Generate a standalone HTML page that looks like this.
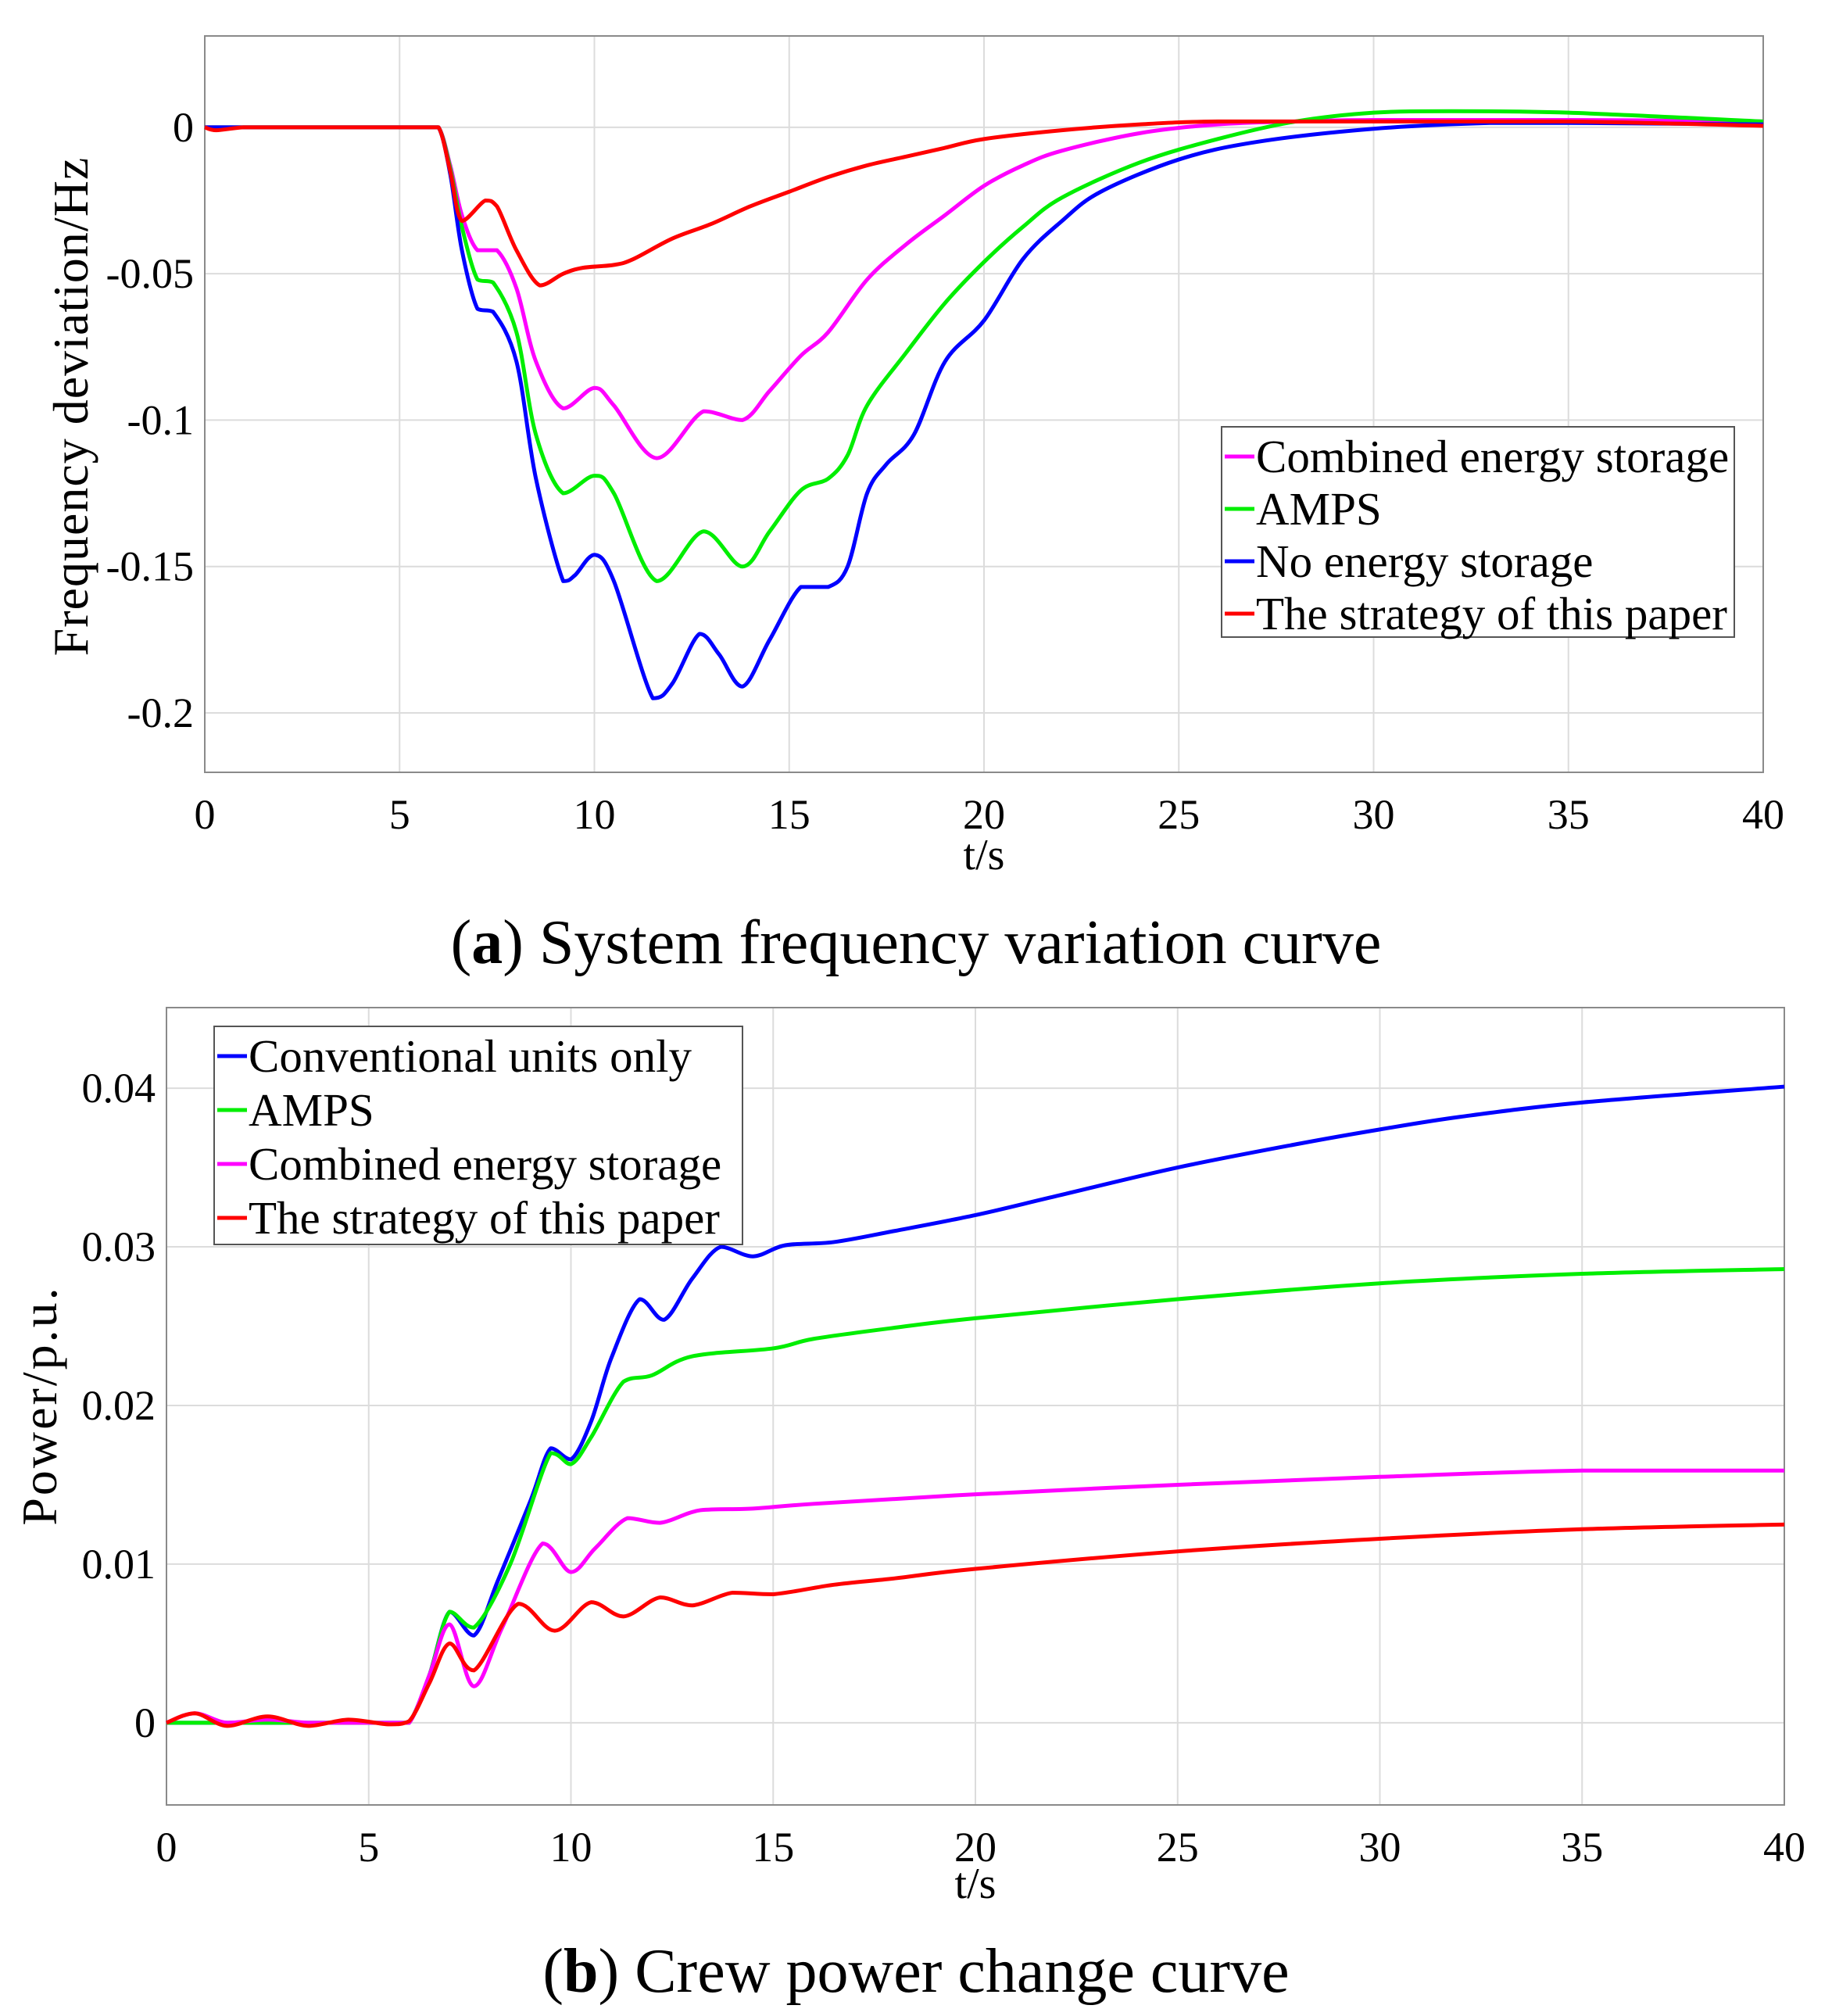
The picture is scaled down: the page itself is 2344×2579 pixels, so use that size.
<!DOCTYPE html>
<html><head><meta charset="utf-8"><style>
html,body{margin:0;padding:0;background:#fff;}
svg{display:block;font-family:"Liberation Serif",serif;}
</style></head><body>
<svg id="svg" width="2344" height="2579" viewBox="0 0 2344 2579">
<g id="top"></g>
<g id="bot"></g>
<text x="1172" y="1232" font-size="80" text-anchor="middle">(<tspan font-weight="bold">a</tspan>) System frequency variation curve</text>
<text x="1172" y="2548" font-size="80" text-anchor="middle">(<tspan font-weight="bold">b</tspan>) Crew power change curve</text>
</svg>
<script>
const NS="http://www.w3.org/2000/svg";
// ---- Top chart data ----
const topXTicks=[0,5,10,15,20,25,30,35,40];
const topYTicks=[0,-0.05,-0.1,-0.15,-0.2];
const topYLabels=["0","-0.05","-0.1","-0.15","-0.2"];
const topNames=["Combined energy storage","AMPS","No energy storage","The strategy of this paper"];
const topColors=["#ff00ff","#00ee00","#0000ff","#ff0000"];
const fBlueT=[0,1,2,3,4,5,5.6,6,6.3,6.6,7,7.4,8,8.5,9.2,9.5,10,10.5,11.5,12,12.7,13.2,13.8,14.5,15.3,16,16.5,17,17.5,18.2,19,20,21,22,23,25,27,30,33,35,40];
const fBlueV=[0,0,0,0,0,0,0,0,-0.016,-0.042,-0.062,-0.063,-0.08,-0.12,-0.155,-0.153,-0.146,-0.155,-0.195,-0.19,-0.173,-0.18,-0.191,-0.175,-0.157,-0.157,-0.15,-0.125,-0.115,-0.105,-0.08,-0.066,-0.045,-0.032,-0.022,-0.011,-0.005,-0.0005,0.0015,0.0015,0.001];
const fGreenT=[0,1,2,3,4,5,5.6,6,6.3,6.6,7,7.4,8,8.5,9.2,10,10.5,11.6,12.8,13.8,14.5,15.3,16,16.5,17,18,19,20,21,22,24,26,28,30,32,35,40];
const fGreenV=[0,0,0,0,0,0,0,0,-0.014,-0.034,-0.052,-0.053,-0.07,-0.105,-0.125,-0.119,-0.125,-0.155,-0.138,-0.15,-0.138,-0.124,-0.12,-0.112,-0.095,-0.077,-0.06,-0.046,-0.034,-0.024,-0.012,-0.004,0.002,0.005,0.0055,0.005,0.002];
const fMagT=[0,1,2,3,4,5,5.6,6,6.3,6.6,7,7.5,8,8.5,9.2,10,10.5,11.6,12.8,13.8,14.5,15.3,16,17,18,19,20,21,22,24,26,28,30,35,40];
const fMagV=[0,0,0,0,0,0,0,0,-0.013,-0.03,-0.042,-0.042,-0.055,-0.08,-0.096,-0.089,-0.095,-0.113,-0.097,-0.1,-0.09,-0.078,-0.07,-0.052,-0.04,-0.03,-0.02,-0.013,-0.008,-0.002,0.001,0.002,0.0025,0.0025,0.002];
const fRedT=[0,0.3,1,2,3,4,5,5.6,6,6.3,6.6,7.2,7.5,8,8.6,9.2,9.7,10.5,11,12,13,14,15,16,17,18,19,20,22,24,26,30,35,40];
const fRedV=[0,-0.001,0,0,0,0,0,0,0,-0.015,-0.032,-0.025,-0.027,-0.042,-0.054,-0.05,-0.048,-0.047,-0.045,-0.038,-0.033,-0.027,-0.022,-0.017,-0.013,-0.01,-0.007,-0.004,-0.001,0.001,0.002,0.002,0.002,0.0005];
// ---- Bottom chart data ----
const botXTicks=[0,5,10,15,20,25,30,35,40];
const botYTicks=[0,0.01,0.02,0.03,0.04];
const botYLabels=["0","0.01","0.02","0.03","0.04"];
const botNames=["Conventional units only","AMPS","Combined energy storage","The strategy of this paper"];
const botColors=["#0000ff","#00ee00","#ff00ff","#ff0000"];
const pBlueT=[0,1,2,3,4,5,5.6,6,6.5,7,7.6,8.2,9,9.5,10,10.5,11,11.7,12.3,13,13.7,14.5,15.3,16.5,18,20,22,25,28,30,32,35,40];
const pBlueV=[0,0,0,0,0,0,0,0,0.003,0.007,0.0055,0.009,0.014,0.0173,0.0166,0.019,0.023,0.0267,0.0254,0.028,0.03,0.0294,0.0301,0.0303,0.031,0.032,0.0332,0.035,0.0365,0.0374,0.0382,0.0391,0.0401];
const pGreenT=[0,1,2,3,4,5,5.6,6,6.5,7,7.6,8.5,9.5,10,10.5,11.3,12,13,15,16,18,20,25,30,35,40];
const pGreenV=[0,0,0,0,0,0,0,0,0.003,0.007,0.006,0.01,0.017,0.0163,0.018,0.0215,0.0219,0.0231,0.0236,0.0242,0.0249,0.0255,0.0267,0.0277,0.0283,0.0286];
const pMagT=[0,0.7,1.5,2.5,3.5,4.5,5.5,6,6.5,7,7.6,8.3,9.3,10,10.6,11.4,12.2,13.2,14.5,16,20,25,30,35,40];
const pMagV=[0,0.0006,0,0.0002,0,0,0,0,0.003,0.0062,0.0023,0.006,0.0113,0.0095,0.011,0.0129,0.0126,0.0134,0.0135,0.0138,0.0144,0.015,0.0155,0.0159,0.0159];
const pRedT=[0,0.7,1.5,2.5,3.5,4.5,5.5,6,6.5,7,7.6,8.7,9.6,10.5,11.3,12.2,13,14,15,16.5,18,20,25,30,35,40];
const pRedV=[0,0.0006,-0.0002,0.0004,-0.0002,0.0002,-0.0001,0.0001,0.0025,0.005,0.0033,0.0075,0.0058,0.0076,0.0067,0.0079,0.0074,0.0082,0.0081,0.0087,0.0091,0.0097,0.0108,0.0116,0.0122,0.0125];

function el(parent,tag,attrs){const e=document.createElementNS(NS,tag);for(const k in attrs)e.setAttribute(k,attrs[k]);parent.appendChild(e);return e;}
function clamp(v,a,b){const lo=Math.min(a,b),hi=Math.max(a,b);return Math.max(lo,Math.min(hi,v));}
function smooth(pts){let d=`M${pts[0][0]},${pts[0][1]}`;for(let i=0;i<pts.length-1;i++){const p0=pts[Math.max(0,i-1)],p1=pts[i],p2=pts[i+1],p3=pts[Math.min(pts.length-1,i+2)];const c1x=p1[0]+(p2[0]-p0[0])/6,c2x=p2[0]-(p3[0]-p1[0])/6;let c1y=p1[1]+(p2[1]-p0[1])/6,c2y=p2[1]-(p3[1]-p1[1])/6;c1y=clamp(c1y,p1[1],p2[1]);c2y=clamp(c2y,p1[1],p2[1]);d+=`C${c1x},${c1y} ${c2x},${c2y} ${p2[0]},${p2[1]}`;}return d;}

function chart(g,cfg){
 const sx=t=>cfg.L+(t-cfg.xmin)/(cfg.xmax-cfg.xmin)*(cfg.R-cfg.L);
 const sy=v=>cfg.B-(v-cfg.ymin)/(cfg.ymax-cfg.ymin)*(cfg.B-cfg.T);
 cfg.xt.forEach(t=>{const l=el(g,'line',{x1:sx(t),x2:sx(t),y1:cfg.T,y2:cfg.B,stroke:'#dcdcdc','stroke-width':2});
  
  
  const tx=el(g,'text',{x:sx(t),y:cfg.B+72,'font-size':54,'text-anchor':'middle'});tx.textContent=t;
  
  });
 cfg.yt.forEach((v,i)=>{const l=el(g,'line',{x1:cfg.L,x2:cfg.R,y1:sy(v),y2:sy(v),stroke:'#dcdcdc','stroke-width':2});
  
  
  const tx=el(g,'text',{x:cfg.L-14,y:sy(v)+18,'font-size':54,'text-anchor':'end'});tx.textContent=cfg.yl[i];
  
  });
 const box=el(g,'rect',{x:cfg.L,y:cfg.T,width:cfg.R-cfg.L,height:cfg.B-cfg.T,fill:'none',stroke:'#8a8a8a','stroke-width':2});
 
 
 cfg.series.forEach(s=>{const pts=s.t.map((t,i)=>[sx(t),sy(s.v[i])]);
  const p=el(g,'path',{d:smooth(pts),fill:'none',stroke:s.c,'stroke-width':5,'stroke-linejoin':'round'});
  
  });
 const xl=el(g,'text',{x:(cfg.L+cfg.R)/2,y:cfg.xly,'font-size':56,'text-anchor':'middle'});xl.textContent='t/s';
 
 
 const yl=el(g,'text',{x:0,y:0,'font-size':cfg.yfs,'letter-spacing':cfg.yls,'text-anchor':'middle',transform:`translate(${cfg.ylx},${cfg.yly}) rotate(-90)`});yl.textContent=cfg.ytitle;
 
 
 const lg=cfg.leg;
 const lr=el(g,'rect',{x:lg.x,y:lg.y,width:lg.w,height:lg.h,fill:'#fff',stroke:'#555','stroke-width':2});
 
 
 cfg.names.forEach((n,i)=>{const y=lg.y0+i*lg.dy;
  const ln=el(g,'line',{x1:lg.x+4,x2:lg.x+42,y1:y,y2:y,stroke:cfg.colors[i],'stroke-width':5});
  
  
  const tx=el(g,'text',{x:lg.x+44,y:y+20,'font-size':59});tx.textContent=n;
  
  });
}
chart(document.getElementById('top'),{L:262,R:2256,T:46,B:988,xmin:0,xmax:40,ymin:-0.2203,ymax:0.0312,
 xt:topXTicks,yt:topYTicks,yl:topYLabels,xly:1112,ylx:112,yly:520,ytitle:'Frequency deviation/Hz',yfs:64,yls:1,
 names:topNames,colors:topColors,leg:{x:1563,y:546,w:656,h:269,y0:584,dy:67},
 series:[{n:'combined-storage-line',c:topColors[0],t:fMagT,v:fMagV},{n:'amps-line',c:topColors[1],t:fGreenT,v:fGreenV},{n:'no-storage-line',c:topColors[2],t:fBlueT,v:fBlueV},{n:'strategy-line',c:topColors[3],t:fRedT,v:fRedV}]});
chart(document.getElementById('bot'),{L:213,R:2283,T:1289,B:2309,xmin:0,xmax:40,ymin:-0.00518,ymax:0.04508,
 xt:botXTicks,yt:botYTicks,yl:botYLabels,xly:2428,ylx:72,yly:1798,ytitle:'Power/p.u.',yfs:64,yls:3,
 names:botNames,colors:botColors,leg:{x:274,y:1313,w:676,h:279,y0:1351,dy:69},
 series:[{n:'conventional-line',c:botColors[0],t:pBlueT,v:pBlueV},{n:'amps-line',c:botColors[1],t:pGreenT,v:pGreenV},{n:'combined-storage-line',c:botColors[2],t:pMagT,v:pMagV},{n:'strategy-line',c:botColors[3],t:pRedT,v:pRedV}]});
</script>
</body></html>
